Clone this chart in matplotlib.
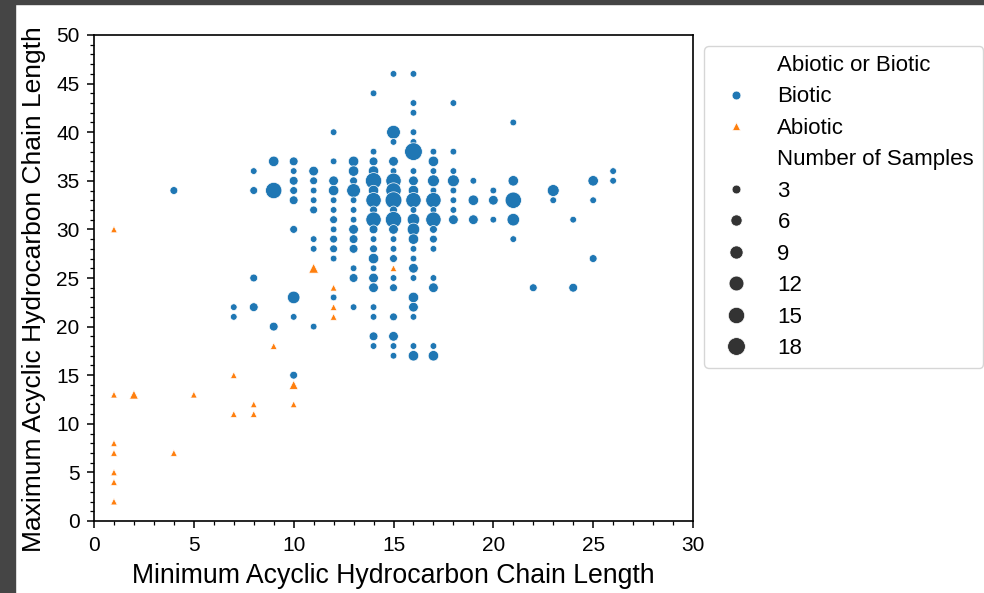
import matplotlib
matplotlib.use("Agg")
import matplotlib.pyplot as plt
from matplotlib.lines import Line2D
from matplotlib.patches import Rectangle
from matplotlib.ticker import MultipleLocator
import numpy as np

plt.rcParams['font.family'] = ['Liberation Sans', 'DejaVu Sans']

# Biotic points: min chain length, max chain length, number of samples
bio_x = [4, 7, 7, 8, 8, 8, 8, 9, 9, 9,
         10, 10, 10, 10, 10, 10, 10, 10, 10,
         11, 11, 11, 11, 11, 11, 11, 11,
         12, 12, 12, 12, 12, 12, 12, 12, 12, 12, 12, 12,
         13, 13, 13, 13, 13, 13, 13, 13, 13, 13, 13, 13, 13,
         14, 14, 14, 14, 14, 14, 14, 14, 14, 14, 14, 14, 14, 14, 14, 14, 14, 14, 14, 14,
         15, 15, 15, 15, 15, 15, 15, 15, 15, 15, 15, 15, 15, 15, 15, 15, 15, 15, 15, 15,
         16, 16, 16, 16, 16, 16, 16, 16, 16, 16, 16, 16, 16, 16, 16, 16, 16, 16, 16, 16, 16, 16, 16,
         17, 17, 17, 17, 17, 17, 17, 17, 17, 17, 17, 17, 17, 17, 17,
         18, 18, 18, 18, 18, 18, 18, 18,
         19, 19, 19, 20, 20, 20,
         21, 21, 21, 21, 21, 22, 23, 23, 24, 24, 25, 25, 25, 26, 26]
bio_y = [34, 22, 21, 36, 34, 25, 22, 37, 34, 20,
         37, 36, 35, 34, 33, 30, 23, 21, 15,
         36, 35, 34, 33, 32, 29, 28, 20,
         40, 37, 35, 34, 33, 32, 31, 30, 29, 28, 27, 23,
         37, 36, 35, 34, 33, 32, 31, 30, 29, 28, 26, 25, 22,
         44, 38, 37, 36, 35, 34, 33, 32, 31, 30, 29, 28, 27, 26, 25, 24, 22, 21, 19, 18,
         46, 40, 39, 37, 36, 35, 34, 33, 32, 31, 30, 29, 28, 27, 25, 24, 21, 19, 18, 17,
         46, 43, 42, 40, 39, 38, 36, 35, 34, 33, 32, 31, 30, 29, 28, 27, 26, 25, 23, 22, 21, 18, 17,
         38, 37, 36, 35, 34, 33, 32, 31, 30, 29, 28, 25, 24, 18, 17,
         43, 38, 36, 35, 34, 33, 32, 31,
         35, 33, 31, 34, 33, 31,
         41, 35, 33, 31, 29, 24, 34, 33, 31, 24, 35, 33, 27, 36, 35]
bio_n = [2, 1, 1, 1, 2, 2, 3, 5, 15, 3,
         3, 1, 3, 2, 3, 2, 8, 1, 2,
         4, 2, 1, 1, 2, 1, 1, 1,
         1, 1, 4, 5, 1, 1, 2, 1, 2, 2, 1, 1,
         5, 5, 2, 10, 1, 1, 1, 4, 3, 3, 1, 3, 1,
         1, 1, 3, 5, 15, 5, 13, 2, 13, 3, 1, 2, 5, 1, 4, 4, 1, 1, 3, 1,
         1, 10, 1, 4, 1, 13, 13, 16, 2, 15, 4, 1, 1, 2, 1, 2, 2, 4, 1, 1,
         1, 1, 1, 1, 1, 18, 1, 4, 5, 13, 1, 8, 8, 5, 1, 1, 4, 1, 5, 4, 1, 1, 5,
         1, 5, 1, 7, 1, 13, 1, 13, 2, 2, 1, 1, 4, 1, 5,
         1, 1, 1, 7, 1, 1, 1, 4,
         1, 5, 4, 1, 4, 1,
         1, 5, 15, 8, 1, 2, 7, 1, 1, 3, 5, 1, 2, 1, 1]

# Abiotic points
abio_x = [1, 1, 2, 5, 7, 7, 8, 8, 9, 10, 10, 1, 1, 1, 1, 1, 4, 11, 12, 12, 12, 15]
abio_y = [30, 13, 13, 13, 15, 11, 12, 11, 18, 14, 12, 8, 7, 5, 4, 2, 7, 26, 24, 22, 21, 26]
abio_n = [1, 1, 3, 1, 1, 1, 1, 1, 1, 3, 1, 1, 1, 1, 1, 1, 1, 4, 1, 1, 1, 1]

size_ticks = [3, 6, 9, 12, 15, 18]

blue = '#1f77b4'
orange = '#ff7f0e'


def marker_pt(n):
    # visible diameter in px grows with sqrt of a linear area mapping
    d = np.sqrt(21 + 14.9 * np.asarray(n, dtype=float)) + 0.7
    return d * 72 / 100


fig = plt.figure(figsize=(9.84, 5.93), dpi=100)
fig.patch.set_facecolor('white')
fig.add_artist(Rectangle((0, 1 - 4 / 593), 1, 4 / 593, transform=fig.transFigure,
                         color='#454545', zorder=0))
fig.add_artist(Rectangle((0, 0), 15 / 984, 1, transform=fig.transFigure,
                         color='#454545', zorder=0))

ax = fig.add_axes([94 / 984, 1 - 521 / 593, 599 / 984, 486 / 593])

ax.scatter(bio_x, bio_y, s=marker_pt(bio_n) ** 2, c=blue, marker='o',
           edgecolors='white', linewidths=0.5, zorder=3)
ax.scatter(abio_x, abio_y, s=marker_pt(abio_n) ** 2, c=orange, marker='^',
           edgecolors='white', linewidths=0.5, zorder=3)

ax.set_xlim(0, 30)
ax.set_ylim(0, 50)
ax.xaxis.set_major_locator(MultipleLocator(5))
ax.yaxis.set_major_locator(MultipleLocator(5))
ax.xaxis.set_minor_locator(MultipleLocator(1))
ax.yaxis.set_minor_locator(MultipleLocator(1))
ax.tick_params(which='major', length=5, width=1.1, labelsize=15, pad=5.5,
               direction='out')
ax.tick_params(which='minor', length=3, width=0.9, direction='out')
for sp in ax.spines.values():
    sp.set_linewidth(1.2)

ax.set_xlabel('Minimum Acyclic Hydrocarbon Chain Length', fontsize=19.2, labelpad=6)
ax.set_ylabel('Maximum Acyclic Hydrocarbon Chain Length', fontsize=19)
ax.yaxis.set_label_coords(-0.080, 0.477)

handles = [Line2D([], [], linestyle='none')]
labels = ['Abiotic or Biotic']
handles.append(Line2D([], [], linestyle='none', marker='o', color=blue,
                      markeredgecolor='white', markeredgewidth=0.5,
                      markersize=marker_pt(3)))
labels.append('Biotic')
handles.append(Line2D([], [], linestyle='none', marker='^', color=orange,
                      markeredgecolor='white', markeredgewidth=0.5,
                      markersize=marker_pt(3)))
labels.append('Abiotic')
handles.append(Line2D([], [], linestyle='none'))
labels.append('Number of Samples')
for v in size_ticks:
    handles.append(Line2D([], [], linestyle='none', marker='o', color='#333333',
                          markeredgecolor='white', markeredgewidth=0.5,
                          markersize=marker_pt(v)))
    labels.append(str(v))

ax.legend(handles, labels, loc='upper left', bbox_to_anchor=(1.0, 1.0),
          fontsize=16, labelspacing=0.47, handlelength=2.1, handletextpad=0.8)

fig.savefig('out.png', dpi=100)
